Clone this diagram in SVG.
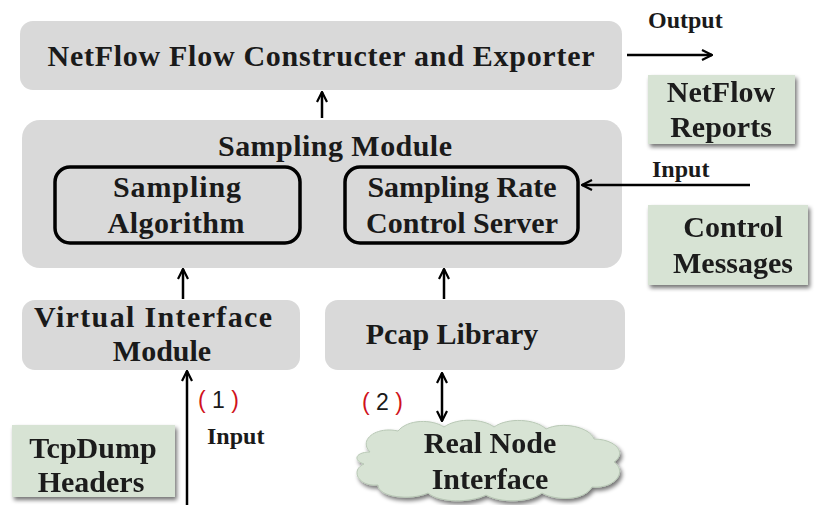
<svg xmlns="http://www.w3.org/2000/svg" width="818" height="505" viewBox="0 0 818 505">
  <defs>
    <style>
      .t { font-family: "Liberation Serif", "Times New Roman", serif; font-weight: bold; fill: #1a1a1a; text-anchor: middle; font-size: 30px; }
      .lbl { font-family: "Liberation Serif", "Times New Roman", serif; font-weight: bold; fill: #1a1a1a; font-size: 24px; }
      .num { font-family: "Liberation Sans", Arial, sans-serif; font-size: 23px; fill: #1a1a1a; }
      .par { fill: #d0121b; }
      .gray { fill: #d9d9d9; }
      .green { fill: #d7e3d4; }
      .inner { fill: none; stroke: #000; stroke-width: 3.5; }
      .conn { stroke: #000; stroke-width: 2.5; fill: none; }
    </style>
    <marker id="head" viewBox="0 0 12 12" refX="11" refY="6" markerWidth="12" markerHeight="12" markerUnits="userSpaceOnUse" orient="auto-start-reverse">
      <path d="M1,1 L11,6 L1,11" fill="none" stroke="#000" stroke-width="2.2"/>
    </marker>
    <filter id="shadow" x="-10%" y="-10%" width="125%" height="130%">
      <feGaussianBlur in="SourceAlpha" stdDeviation="2"/>
      <feOffset dx="2" dy="3" result="b"/>
      <feComponentTransfer><feFuncA type="linear" slope="0.55"/></feComponentTransfer>
      <feMerge><feMergeNode/><feMergeNode in="SourceGraphic"/></feMerge>
    </filter>
  </defs>

  <rect width="818" height="505" fill="#fff"/>

  <!-- exporter -->
  <g id="exporter">
    <rect class="gray" x="20" y="21" width="602" height="69" rx="13"/>
    <text class="t" x="321" y="66" textLength="547">NetFlow Flow Constructer and Exporter</text>
  </g>

  <!-- sampling module with its two sub-blocks -->
  <g id="sampling-module">
    <rect class="gray" x="22" y="120" width="600" height="148" rx="18"/>
    <text class="t" x="335" y="156" textLength="234">Sampling Module</text>
  </g>
  <g id="sampling-algorithm">
    <rect class="inner" x="55" y="167" width="245" height="76" rx="15"/>
    <text class="t" x="177" y="197" textLength="128">Sampling</text>
    <text class="t" x="176" y="233" textLength="137">Algorithm</text>
  </g>
  <g id="rate-control-server">
    <rect class="inner" x="345" y="167" width="233" height="76" rx="15"/>
    <text class="t" x="462" y="197">Sampling Rate</text>
    <text class="t" x="462" y="233">Control Server</text>
  </g>

  <!-- input side -->
  <g id="virtual-interface">
    <rect class="gray" x="22" y="300" width="278" height="70" rx="13"/>
    <text class="t" x="153" y="327" textLength="238">Virtual Interface</text>
    <text class="t" x="162" y="361">Module</text>
  </g>
  <g id="pcap-library">
    <rect class="gray" x="325" y="300" width="300" height="70" rx="13"/>
    <text class="t" x="452" y="344">Pcap Library</text>
  </g>

  <!-- external sources and sinks -->
  <g id="netflow-reports" filter="url(#shadow)">
    <rect class="green" x="648" y="75" width="147" height="69"/>
    <text class="t" x="721" y="102">NetFlow</text>
    <text class="t" x="721" y="137">Reports</text>
  </g>
  <g id="control-messages" filter="url(#shadow)">
    <rect class="green" x="648" y="205" width="160" height="80"/>
    <text class="t" x="733" y="237">Control</text>
    <text class="t" x="733" y="273">Messages</text>
  </g>
  <g id="tcpdump-headers" filter="url(#shadow)">
    <rect class="green" x="12" y="425" width="163" height="72"/>
    <text class="t" x="93" y="458">TcpDump</text>
    <text class="t" x="91" y="492">Headers</text>
  </g>
  <g id="real-node-interface" filter="url(#shadow)">
    <path fill="#d7e3d4" stroke="#b8c8b5" stroke-width="1" d="M370,452 C358,440 376,426 398,431 C408,419 432,419 444,427 C458,417 484,419 494,427 C508,417 536,419 546,429 C562,421 590,427 594,439 C614,439 628,452 614,462 C628,472 614,489 592,487 C584,501 556,501 542,493 C528,503 500,503 486,495 C470,503 440,503 428,493 C410,501 378,497 378,485 C358,487 350,470 364,464 C352,460 356,452 370,452 Z"/>
    <text class="t" x="490" y="453">Real Node</text>
    <text class="t" x="490" y="489">Interface</text>
  </g>

  <!-- free labels -->
  <g id="labels">
    <text class="lbl" x="648" y="28">Output</text>
    <text class="lbl" x="652" y="177">Input</text>
    <text class="lbl" x="207" y="444">Input</text>
    <text class="num" x="198" y="408"><tspan class="par">(</tspan> 1 <tspan class="par">)</tspan></text>
    <text class="num" x="362" y="410"><tspan class="par">(</tspan> 2 <tspan class="par">)</tspan></text>
  </g>

  <!-- connectors -->
  <g id="connectors">
    <line class="conn" x1="627" y1="55" x2="712" y2="55" marker-end="url(#head)"/>
    <line class="conn" x1="322" y1="118" x2="322" y2="92" marker-end="url(#head)"/>
    <line class="conn" x1="750" y1="185" x2="582" y2="185" marker-end="url(#head)"/>
    <line class="conn" x1="183" y1="299" x2="183" y2="269" marker-end="url(#head)"/>
    <line class="conn" x1="444" y1="299" x2="444" y2="269" marker-end="url(#head)"/>
    <line class="conn" x1="187" y1="505" x2="187" y2="371" marker-end="url(#head)"/>
    <line class="conn" x1="442" y1="373" x2="442" y2="421" marker-start="url(#head)" marker-end="url(#head)"/>
  </g>
</svg>
